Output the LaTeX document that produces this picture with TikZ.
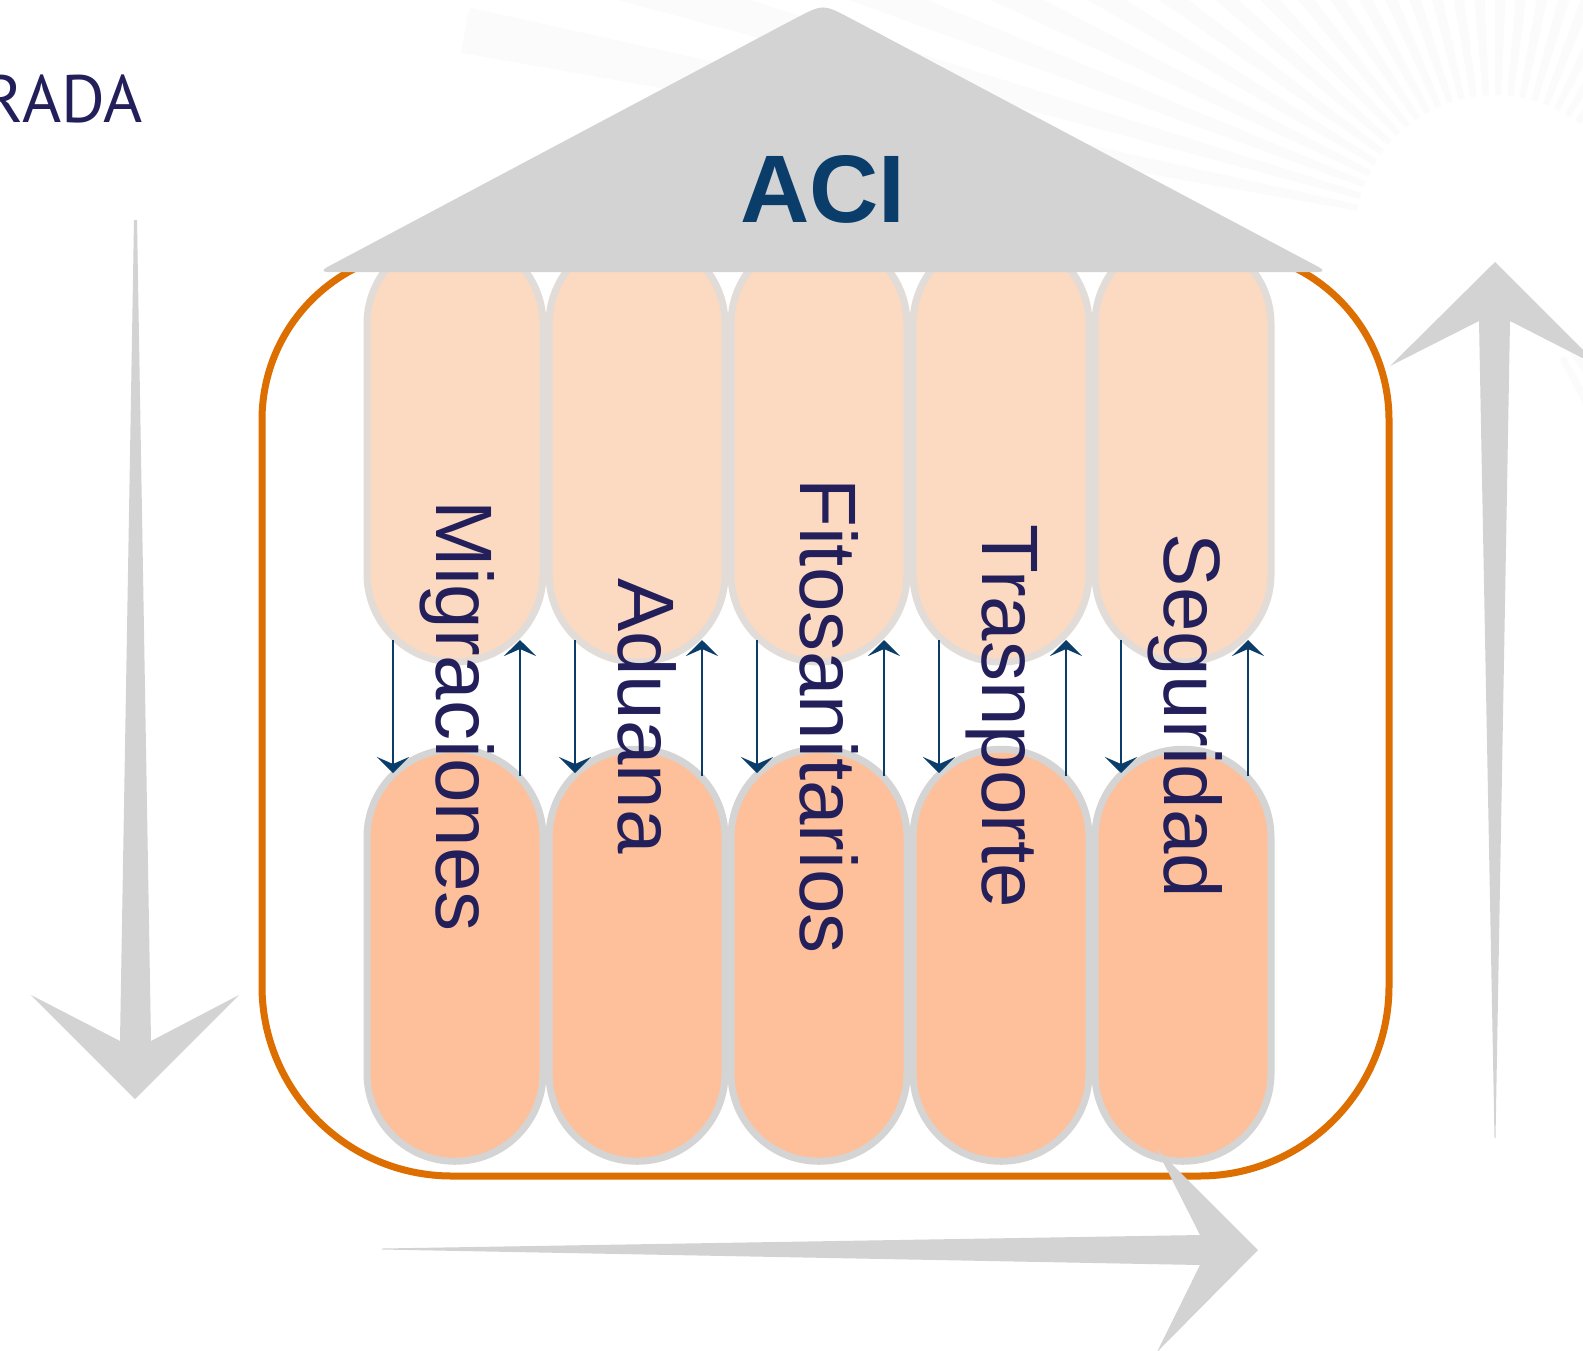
\documentclass[tikz,border=0pt]{standalone}
\usepackage{fontspec}
\setmainfont{Liberation Sans}
\newfontfamily\ptsans{PT Sans}
\usetikzlibrary{arrows.meta,calc}
\definecolor{navytext}{RGB}{35,31,90}
\definecolor{aciblue}{RGB}{11,61,107}
\definecolor{roofgray}{RGB}{211,211,211}
\definecolor{frameorange}{RGB}{221,110,0}
\definecolor{pilltopfill}{RGB}{252,217,193}
\definecolor{pilltopline}{RGB}{226,220,216}
\definecolor{pillbotfill}{RGB}{253,192,154}
\definecolor{pillbotline}{RGB}{212,212,212}
\definecolor{raycol}{RGB}{252,251,251}
\begin{document}
\begin{tikzpicture}[x=0.5pt,y=-0.5pt,
  pilltop/.style={draw=pilltopline, fill=pilltopfill, line width=3.5pt, rounded corners=43.9pt,
    minimum width=88pt, minimum height=213pt, inner sep=0pt, outer sep=0pt},
  pillbot/.style={draw=pillbotline, fill=pillbotfill, line width=3.5pt, rounded corners=43.9pt,
    minimum width=88pt, minimum height=206pt, inner sep=0pt, outer sep=0pt},
  colname/.style={text=navytext, font=\fontsize{40}{48}\selectfont, rotate=-90, anchor=base, inner sep=0pt},
  smallarrow/.style={draw=aciblue, line width=1.4pt, -{Stealth[length=8pt,width=16pt,inset=3.5pt]}},
  bigarrow/.style={fill=roofgray},
]
\useasboundingbox (0,0) rectangle (1583,1350);
\fill[white] (0,0) rectangle (1583,1350);
% faint sunburst
\coordinate (sun) at (1495,235);
\foreach \a in {190,195,...,420}
  \fill[raycol] ($(sun)+(\a:140)$) -- ($(sun)+(\a:1050)$) arc[start angle=\a, end angle=\a+2.5, radius=1050]
    -- ($(sun)+(\a+2.5:140)$) -- cycle;
% big gray arrows
\fill[bigarrow] (134,220) -- (137,220) -- (151,1041) -- (239,995) -- (135,1099) -- (31,995) -- (120,1041) -- cycle;
\fill[bigarrow] (1495,262) -- (1600,367) -- (1510,321) -- (1495.5,1138) -- (1494.5,1138) -- (1479,321) -- (1390,366) -- cycle;
% orange frame
\draw[frameorange, line width=3.5pt] (262,986) -- (262,420) arc[start angle=180, end angle=270, radius=170]
  -- (1219,250) arc[start angle=270, end angle=360, radius=170]
  -- (1389,986) arc[start angle=0, end angle=90, radius=190]
  -- (452,1176) arc[start angle=90, end angle=180, radius=190] -- cycle;
% pills
\foreach \i/\c in {1/455,2/637,3/819,4/1001,5/1183}
  \node[pilltop] (t\i) at (\c,449) {};
\foreach \i/\c in {1/455,2/637,3/819,4/1001,5/1183}
  \node[pillbot] (b\i) at (\c,955.25) {};
% roof
\fill[roofgray, rounded corners=5pt] (823,272) -- (318,272) -- (787.6,22.5) .. controls (823,4) .. (858.4,22.5)
  -- (1328,272) -- cycle;
\node[font=\bfseries\fontsize{48}{56}\selectfont, text=aciblue, anchor=base, inner sep=0pt] (aci) at (823,222) {ACI};
% column names
\foreach \i/\c/\t in {1/455/Migraciones,2/637/Aduana,3/819/Fitosanitarios,4/1001/Trasnporte,5/1183/Seguridad}
  \node[colname] (n\i) at (\c-19,716) {\t};
% small arrows
\foreach \i/\c in {1/455,2/637,3/819,4/1001,5/1183}{
  \coordinate (ds\i) at (\c-62,640);
  \coordinate (de\i) at (\c-62,773);
  \coordinate (us\i) at (\c+65,776);
  \coordinate (ue\i) at (\c+65,640);
  \draw[smallarrow] (ds\i) -- (de\i);
  \draw[smallarrow] (us\i) -- (ue\i);
}
% bottom right arrow
\fill[bigarrow] (382,1248.5) -- (1200,1235) -- (1156,1148) -- (1258,1250) -- (1157,1352) -- (1200,1265) -- (382,1249.5) -- cycle;
% left text
\node[font=\ptsans\fontsize{33.5}{40}\selectfont, text=navytext, anchor=base east, inner sep=0pt] (entrada) at (143,122) {RADA};
\end{tikzpicture}
\end{document}
